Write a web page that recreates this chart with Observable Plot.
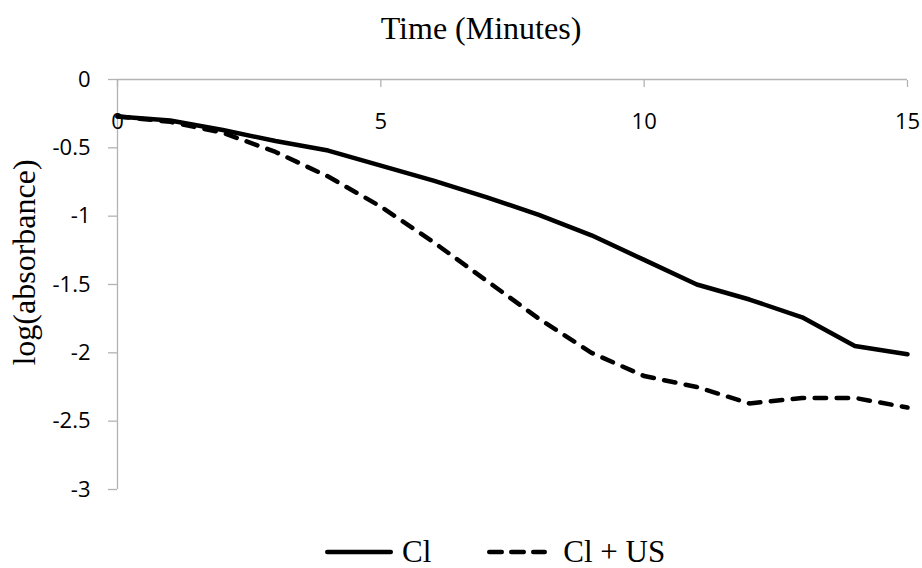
<!DOCTYPE html>
<html>
<head>
<meta charset="utf-8">
<script src="https://cdn.jsdelivr.net/npm/d3@7"></script>
<script src="https://cdn.jsdelivr.net/npm/@observablehq/plot@0.6"></script>
<style>
  body { margin: 0; background: #fff; }
  #wrap { width: 922px; height: 568px; overflow: hidden; background: #fff; }
  #title { height: 50px; box-sizing: border-box; padding-left: 40px; width: 922px; text-align: center;
           font-family: "Liberation Serif", "Times New Roman", serif; font-size: 32px; line-height: 46px; padding-top: 5px; color: #000; white-space: nowrap; }
  #legend { height: 44px; display: flex; align-items: center; padding-left: 325px;
            font-family: "Liberation Serif", "Times New Roman", serif; font-size: 31px; color: #000; }
  #legend svg { display: block; }
</style>
</head>
<body>
<div id="wrap">
  <div id="title"></div>
  <div id="chart"></div>
  <div id="legend"></div>
</div>
<script>
const minutes = [0, 1, 2, 3, 4, 5, 6, 7, 8, 9, 10, 11, 12, 13, 14, 15];
const cl = [-0.27, -0.30, -0.37, -0.45, -0.52, -0.63, -0.74, -0.86, -0.99, -1.14, -1.32, -1.50, -1.61, -1.74, -1.95, -2.01];
const clUS = [-0.27, -0.31, -0.39, -0.53, -0.71, -0.93, -1.19, -1.47, -1.75, -2.00, -2.17, -2.25, -2.37, -2.33, -2.33, -2.40];
const seriesNames = ["Cl", "Cl + US"];
const xTicks = [0, 5, 10, 15];
const yTicks = [0, -0.5, -1, -1.5, -2, -2.5, -3];
const xTitle = "Time (Minutes)";
const yTitle = "log(absorbance)";

const rows = [];
minutes.forEach((m, i) => {
  rows.push({series: seriesNames[0], x: m, y: cl[i]});
  rows.push({series: seriesNames[1], x: m, y: clUS[i]});
});

document.getElementById("title").textContent = xTitle;

const axisColor = "#b3b3b3";
const dash = "11.5,10.5";

const chart = Plot.plot({
  width: 922,
  height: 480,
  marginTop: 29,
  marginBottom: 41,
  marginLeft: 117,
  marginRight: 15,
  x: {domain: [0, 15], axis: null},
  y: {domain: [-3, 0], axis: null},
  style: {fontFamily: "'Open Sans', sans-serif", fontSize: "22px", color: "#000", background: "#fff"},
  marks: [
    Plot.ruleY([0], {stroke: axisColor, strokeWidth: 1.3}),
    Plot.ruleX([0], {stroke: axisColor, strokeWidth: 1.3}),
    Plot.axisX({anchor: "top", ticks: xTicks, tickSize: 7, dy: 7, tickFormat: () => "", stroke: axisColor, strokeWidth: 1.3, label: null}),
    Plot.axisY({anchor: "left", ticks: yTicks, tickSize: 9, tickPadding: 18, tickFormat: d => String(d), stroke: axisColor, strokeWidth: 1.3, fill: "#000", fontSize: 22, label: null}),
    Plot.text(xTicks, {x: d => d, frameAnchor: "top", dy: 34, text: d => String(d), fontSize: 22, fill: "#000"}),
    Plot.line(rows.filter(d => d.series === seriesNames[0]), {x: "x", y: "y", stroke: "#000", strokeWidth: 4.5, strokeLinejoin: "round", strokeLinecap: "round"}),
    Plot.line(rows.filter(d => d.series === seriesNames[1]), {x: "x", y: "y", stroke: "#000", strokeWidth: 4.5, strokeDasharray: dash, strokeLinejoin: "round", strokeLinecap: "round"}),
    Plot.text([yTitle], {frameAnchor: "left", textAnchor: "middle", rotate: -90, dx: -93, dy: -22, fontSize: 32, fontFamily: "'Liberation Serif', 'Times New Roman', serif", fill: "#000"})
  ]
});
document.getElementById("chart").appendChild(chart);

// Legend
const legend = document.getElementById("legend");
function sample(width, dashed) {
  const ns = "http://www.w3.org/2000/svg";
  const s = document.createElementNS(ns, "svg");
  s.setAttribute("width", width);
  s.setAttribute("height", 12);
  const l = document.createElementNS(ns, "line");
  l.setAttribute("x1", 2.25); l.setAttribute("x2", width - 2.25);
  l.setAttribute("y1", 6); l.setAttribute("y2", 6);
  l.setAttribute("stroke", "#000");
  l.setAttribute("stroke-width", 4.5);
  l.setAttribute("stroke-linecap", "round");
  if (dashed) l.setAttribute("stroke-dasharray", "12.5,9.5");
  s.appendChild(l);
  return s;
}
function label(text, ml) {
  const sp = document.createElement("span");
  sp.textContent = text;
  sp.style.marginLeft = ml + "px";
  return sp;
}
const s1 = sample(68, false);
legend.appendChild(s1);
legend.appendChild(label(seriesNames[0], 9));
const s2 = sample(60, true);
s2.style.marginLeft = "56px";
legend.appendChild(s2);
legend.appendChild(label(seriesNames[1], 16));
</script>
</body>
</html>
